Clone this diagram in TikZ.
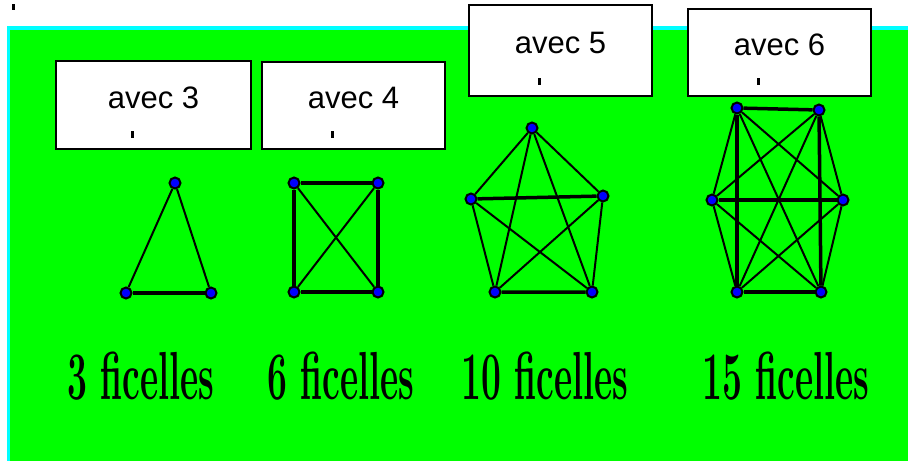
\documentclass[tikz,border=0pt]{standalone}
\usepackage{fontspec}
\newfontfamily\boitefont{Liberation Sans}
\usetikzlibrary{calc}

\begin{document}
\begin{tikzpicture}[x=1pt, y=-1pt]
    % Define colors
    \definecolor{fondColour}{HTML}{00FF00}
    \definecolor{bordColour}{HTML}{00FFFF}
    \definecolor{clouColour}{HTML}{0000FF}

    % Define styles
    \tikzset{
        clou/.style={circle, fill=clouColour, draw=black, line width=2pt, inner sep=0pt, minimum size=11pt},
        fil/.style={black, line width=2pt},
        corde/.style={black, line width=3.5pt},
        boite/.style={draw=black, fill=white, line width=2pt, inner sep=0pt},
        avec/.style={font=\boitefont\fontsize{31}{31}\selectfont, anchor=base, inner sep=0pt},
        total/.style={font=\bfseries\fontsize{68}{68}\selectfont, anchor=base, inner sep=0pt}
    }

    % Define condensed width of the totals
    \def\serre{0.52}

    \useasboundingbox (0,0) rectangle (908,461);

    % Draw background
    \fill[bordColour] (7,26) rectangle (908,461);
    \fill[fondColour] (10,30) rectangle (908,461);
    \fill[black] (12,4) rectangle (15,10);

    % Draw boxes
    \node[boite, minimum width=195pt, minimum height=88pt] (b3) at (153.5,105) {};
    \node[boite, minimum width=183pt, minimum height=87pt] (b4) at (353.5,105.5) {};
    \node[boite, minimum width=183pt, minimum height=91pt] (b5) at (560.5,50.5) {};
    \node[boite, minimum width=183pt, minimum height=87pt] (b6) at (779.5,52.5) {};

    % Label boxes
    \path (b3.center) ++(0,3) node[avec] {avec 3};
    \path (b4.center) ++(0,3) node[avec] {avec 4};
    \path (b5.center) ++(0,3) node[avec] {avec 5};
    \path (b6.center) ++(0,3) node[avec] {avec 6};
    \foreach \b in {b3,b4,b5,b6}
        \draw[line width=3pt] ($(\b.south)+(-21.5,-19)$) -- ++(0,7);

    % Define nails of the triangle
    \node[clou] (t1) at (175,183) {};
    \node[clou] (t2) at (211,293) {};
    \node[clou] (t3) at (126,293) {};

    % Draw strings of the triangle
    \draw[corde] (t3) -- (t2);
    \draw[fil] (t1) -- (t2) (t1) -- (t3);

    % Define nails of the square
    \node[clou] (q1) at (294,183) {};
    \node[clou] (q2) at (378,183) {};
    \node[clou] (q3) at (378,292) {};
    \node[clou] (q4) at (294,292) {};

    % Draw strings of the square
    \draw[corde] (q1) -- (q2) -- (q3) -- (q4) -- (q1);
    \draw[fil] (q1) -- (q3) (q2) -- (q4);

    % Define nails of the pentagon
    \node[clou] (p1) at (532,128) {};
    \node[clou] (p2) at (603,196) {};
    \node[clou] (p3) at (592,292) {};
    \node[clou] (p4) at (495,292) {};
    \node[clou] (p5) at (471,199) {};

    % Draw strings of the pentagon
    \draw[corde] (p5) -- (p2) (p4) -- (p3);
    \foreach \a/\b in {p1/p2,p1/p3,p1/p4,p1/p5,p2/p3,p2/p4,p5/p3,p5/p4}
        \draw[fil] (\a) -- (\b);

    % Define nails of the hexagon
    \node[clou] (h1) at (737,108) {};
    \node[clou] (h2) at (819,110) {};
    \node[clou] (h3) at (843,200) {};
    \node[clou] (h4) at (821,292) {};
    \node[clou] (h5) at (737,292) {};
    \node[clou] (h6) at (712,200) {};

    % Draw strings of the hexagon
    \foreach \a/\b in {h1/h2,h6/h3,h5/h4,h1/h5,h2/h4}
        \draw[corde] (\a) -- (\b);
    \foreach \a/\b in {h1/h3,h1/h4,h1/h6,h2/h3,h2/h5,h2/h6,h3/h4,h3/h5,h4/h6,h5/h6}
        \draw[fil] (\a) -- (\b);

    % Label totals
    \node[total] (f3) at (141,399) {\scalebox{\serre}[1]{3 ficelles}};
    \node[total] (f6) at (341,399) {\scalebox{\serre}[1]{6 ficelles}};
    \node[total] (f10) at (545,399) {\scalebox{\serre}[1]{10 ficelles}};
    \node[total] (f15) at (786,399) {\scalebox{\serre}[1]{15 ficelles}};

\end{tikzpicture}
\end{document}
